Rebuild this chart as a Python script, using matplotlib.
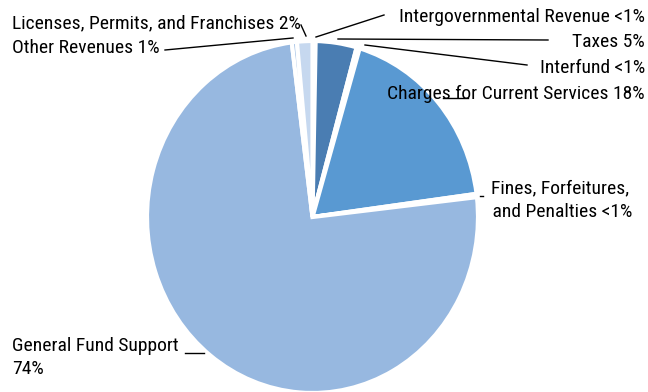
import matplotlib
matplotlib.use("Agg")
import matplotlib.pyplot as plt

categories = ["Intergovernmental Revenue", "Taxes", "Interfund",
              "Charges for Current Services", "Fines, Forfeitures, and Penalties",
              "General Fund Support", "Other Revenues",
              "Licenses, Permits, and Franchises"]
values = [0.3, 4.0, 0.3, 18.3, 0.3, 74.8, 0.5, 1.5]
colors = ["#2f5f8f", "#4a7db2", "#3d6fa3", "#5999d2", "#4f8bc6",
          "#97b8e0", "#9dbde3", "#c6d8ef"]

labels_right = ["Intergovernmental Revenue <1%", "Taxes 5%", "Interfund <1%",
                "Charges for Current Services 18%"]
fines_label = "Fines, Forfeitures,\n and Penalties <1%"
labels_left = ["Licenses, Permits, and Franchises 2%", "Other Revenues 1%"]
gf_label = "General Fund Support\n74%"

W, H = 648, 392
fig = plt.figure(figsize=(W / 100, H / 100), dpi=100)

# pie axes (elliptical mapping)
ax = fig.add_axes([0, 0, 1, 1])
ax.pie(values, colors=colors, startangle=90, counterclock=False,
       center=(0, 0), radius=1.0,
       wedgeprops=dict(edgecolor="white", linewidth=3.0, antialiased=True))
ax.set_aspect("auto")
cx, cy, rx, ry = 312.5, 217.0, 165.5, 176.0
ax.set_xlim(-cx / rx, (W - cx) / rx)
ax.set_ylim((cy - H) / ry, cy / ry)
ax.axis("off")

# overlay axes in pixel coordinates
ov = fig.add_axes([0, 0, 1, 1], facecolor="none")
ov.set_xlim(0, W)
ov.set_ylim(H, 0)
ov.axis("off")

fam = ["Roboto Condensed", "DejaVu Sans"]
fs = 14

# right labels
ry_pos = [17, 42, 68, 94]
for lab, y in zip(labels_right, ry_pos):
    ov.text(645, y, lab, ha="right", va="center", fontsize=fs, family=fam, color="black")
ov.text(560, 200, fines_label, ha="center", va="center", fontsize=fs, family=fam,
        linespacing=1.38, color="black")

# left labels
ov.text(12, 23, labels_left[0], ha="left", va="center", fontsize=fs, family=fam)
ov.text(12, 48, labels_left[1], ha="left", va="center", fontsize=fs, family=fam)
ov.text(12, 357.5, gf_label, ha="left", va="center", fontsize=fs, family=fam,
        linespacing=1.38)

lw = 1.0
ov.plot([316, 384], [37, 15], color="black", lw=lw)
ov.plot([338, 548], [39, 40], color="black", lw=lw)
ov.plot([365, 527], [45, 65], color="black", lw=lw)
ov.plot([443, 468], [98, 98], color="black", lw=lw)
ov.plot([480, 483], [196, 196], color="black", lw=lw)
ov.plot([185, 204], [353, 353], color="black", lw=lw)
ov.plot([301, 306], [25, 36], color="black", lw=lw)
ov.plot([165, 293], [50, 38], color="black", lw=lw)

fig.savefig("out.png", dpi=100)
